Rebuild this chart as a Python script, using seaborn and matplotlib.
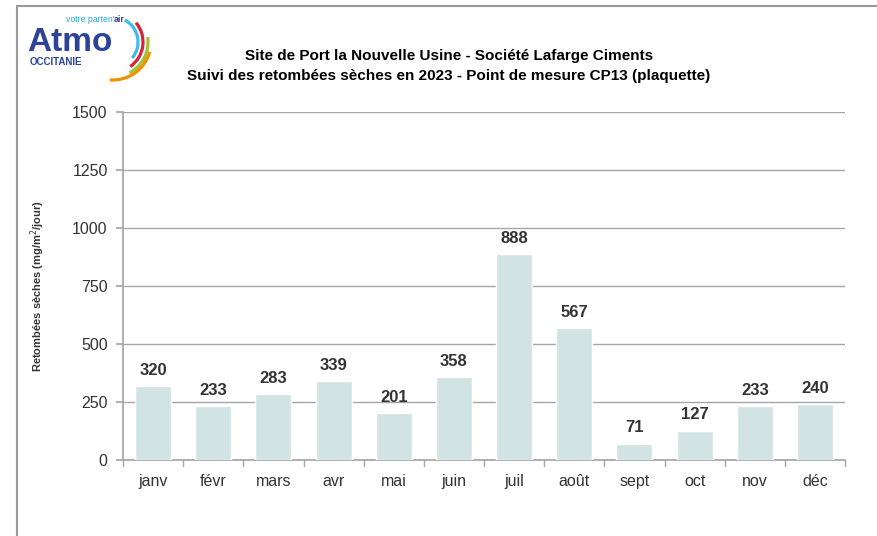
import matplotlib
matplotlib.use("Agg")
import matplotlib.pyplot as plt
import seaborn as sns
import pandas as pd
from matplotlib.patches import Arc
from matplotlib.lines import Line2D

months = ["janv", "févr", "mars", "avr", "mai", "juin", "juil", "août", "sept", "oct", "nov", "déc"]
values = [320, 233, 283, 339, 201, 358, 888, 567, 71, 127, 233, 240]
y_ticks = [0, 250, 500, 750, 1000, 1250, 1500]

title = ("Site de Port la Nouvelle Usine - Société Lafarge Ciments\n"
         "Suivi des retombées sèches en 2023 - Point de mesure CP13 (plaquette)")
y_label = "Retombées sèches (mg/m$^{2}$/jour)"

sns.set_theme(style="white")
plt.rcParams["font.family"] = ["Liberation Sans Narrow", "Liberation Sans", "DejaVu Sans"]
sans = ["Liberation Sans", "DejaVu Sans"]

df = pd.DataFrame({"mois": months, "valeur": values})

W, H = 877, 536
fig = plt.figure(figsize=(W / 100, H / 100), dpi=100)
ax = fig.add_axes([123 / W, 1 - 460 / H, 722 / W, 348 / H])

sns.barplot(data=df, x="mois", y="valeur", color="#d1e4e3", saturation=1,
            width=0.6, ax=ax, zorder=3)

ax.set_ylim(0, 1500)
ax.set_xlim(-0.5, len(months) - 0.5)
ax.set_yticks(y_ticks)
ax.yaxis.grid(True, color="#a6a6a6", linewidth=1, zorder=0)
ax.set_axisbelow(True)
for s in ["top", "right"]:
    ax.spines[s].set_visible(False)
ax.spines["left"].set_color("#a6a6a6")
ax.spines["bottom"].set_color("#a6a6a6")
ax.tick_params(axis="y", left=True, length=5, color="#a6a6a6", labelsize=11.5,
               labelcolor="#333333", pad=6)
ax.tick_params(axis="x", bottom=False, labelsize=11.5, labelcolor="#333333", pad=4)
ax.set_xlabel("")
ax.set_ylabel(y_label, fontsize=8, fontweight="bold", color="#333333", labelpad=18,
              family=sans)

# x ticks at category boundaries
for b in range(len(months) + 1):
    ax.plot([b - 0.5, b - 0.5], [0, -25], color="#a6a6a6", lw=1, clip_on=False)

for i, v in enumerate(values):
    ax.text(i, v + 35, str(v), ha="center", va="bottom", fontsize=12,
            fontweight="bold", color="#333333")

fig.text(449 / W, 1 - 66 / H, title, ha="center", va="center", fontsize=11,
         fontweight="bold", color="#000000", linespacing=1.5, family=sans)

# frame around the chart area
fig.add_artist(Line2D([17 / W, 1.0], [1 - 6 / H, 1 - 6 / H], color="#999999", lw=1.5))
fig.add_artist(Line2D([17 / W, 17 / W], [0, 1 - 6 / H], color="#999999", lw=1.5))

# Atmo logo, drawn in pixel coordinates
lax = fig.add_axes([0, 0, 1, 1])
lax.set_xlim(0, W)
lax.set_ylim(0, H)
lax.axis("off")
lax.text(27, H - 51, "Atmo", fontsize=24, fontweight="bold", color="#2d4496",
         family=sans, va="baseline")
lax.text(30, H - 62, "OCCITANIE", fontsize=7, fontweight="bold", color="#2d4496",
         family=sans, va="center")
lax.text(66, H - 19, "votre parten'", fontsize=6.3, color="#29a9e0", va="center",
         family=sans)
lax.text(114, H - 19, "air", fontsize=6.3, fontweight="bold", color="#2d4496",
         va="center", family=sans)
cx, cy = 113, H - 42
for r, col, t1, t2 in [(25, "#3cbde8", -40, 62), (30, "#d9213a", -55, 40),
                       (35, "#9cc63a", -62, 8), (38, "#f39200", -95, -15)]:
    lax.add_patch(Arc((cx, cy), 2 * r, 2 * r, theta1=t1, theta2=t2,
                      color=col, lw=2.3))

fig.savefig("out.png", dpi=100)
